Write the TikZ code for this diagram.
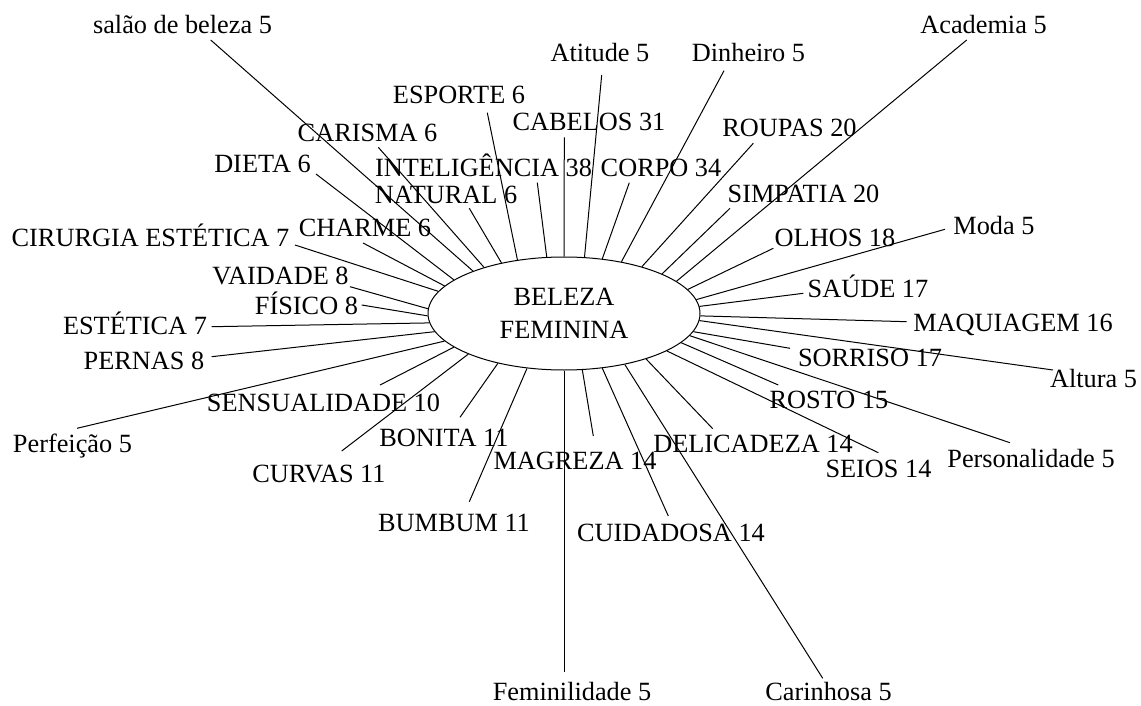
\documentclass[tikz,border=0pt]{standalone}
\usepackage{fontspec}
\setmainfont{Liberation Serif}
\usetikzlibrary{shapes.geometric}
\begin{document}
\begin{tikzpicture}[x=1pt,y=-1pt,
  lbl/.style={anchor=base,inner sep=0pt,font=\fontsize{26.3}{33}\selectfont},
  spoke/.style={line width=1pt,black},
  hub/.style={ellipse,draw,line width=1pt,inner sep=0pt,minimum width=272pt,minimum height=113pt,align=center,font=\fontsize{26.3}{33}\selectfont}]
\useasboundingbox (0,0) rectangle (1141,706);
\node[hub] (E) at (564,313.5) {BELEZA\\FEMININA};
\foreach \n/\a/\px/\py/\tx/\ty/\t in {
 salao/155.95/210.7/40/182.5/34/salão de beleza 5,
 carisma/150.7/378.3/147.3/367.5/142/CARISMA 6,
 dieta/163.5/316/174/262.5/172/DIETA 6,
 charme/167.5/363/243/365/236/CHARME 6,
 cirurgia/170.6/295/245/150.5/246/CIRURGIA ESTÉTICA 7,
 vaidade/178.5/350/286.7/280.5/284/VAIDADE 8,
 fisico/181.9/361.7/305/306.5/314/FÍSICO 8,
 estetica/184.3/211.7/326.7/135/334/ESTÉTICA 7,
 pernas/188.6/211.7/356.7/144/369/PERNAS 8,
 perfeicao/193.5/77/428.3/72.5/452/Perfeição 5,
 sensual/197.7/380/385/323.5/411/SENSUALIDADE 10,
 curvas/203.3/341.7/451/319/482/CURVAS 11,
 bonita/217.7/460/417.3/444/446/BONITA 11,
 bumbum/236.1/469.3/501.7/454/531/BUMBUM 11,
 feminil/270/564/672/572/700.5/Feminilidade 5,
 magreza/288.9/593.3/436/575/469/MAGREZA 14,
 cuidadosa/305.3/668.3/516/671/541/CUIDADOSA 14,
 carinhosa/320.6/822.7/678.3/828.5/700.5/Carinhosa 5,
 delicadeza/331.75/712.7/428.7/753/452/DELICADEZA 14,
 seios/340.5/878.3/452.7/878.5/477/SEIOS 14,
 rosto/346/778.3/385/829/408/ROSTO 15,
 personal/350.6/1010/442.7/1031/467/Personalidade 5,
 sorriso/352.9/790/348.3/870/366/SORRISO 17,
 altura/357.9/1053/370/1093.5/387/Altura 5,
 maquiagem/359.4/906.7/321.7/1013/331/MAQUIAGEM 16,
 saude/3.18/803.3/293.3/868/297/SAÚDE 17,
 moda/6.24/945/229.3/994/234/Moda 5,
 olhos/11.45/773.3/248.3/835/246/OLHOS 18,
 academia/16.8/966.7/40/983.5/34/Academia 5,
 simpatia/22.26/730/208.3/803.5/202/SIMPATIA 20,
 roupas/31.7/753.3/143.3/789.5/137/ROUPAS 20,
 dinheiro/42.9/724/70.7/748.5/62/Dinheiro 5,
 corpo/55.3/629.3/182.7/661/176/CORPO 34,
 atitude/70.3/601.7/75/600/62/Atitude 5,
 cabelos/90/564.3/137.3/589/131/CABELOS 31,
 intelig/107.8/537.3/182.7/483.5/176/INTELIGÊNCIA 38,
 esporte/131.1/487.3/112.7/459/104/ESPORTE 6,
 natural/141.7/469.3/208.3/446/204/NATURAL 6}{
  \coordinate (p-\n) at (\px,\py);
  \node[lbl] (t-\n) at (\tx,\ty) {\t};
  \draw[spoke] (E.\a) -- (p-\n);
}
\end{tikzpicture}
\end{document}
